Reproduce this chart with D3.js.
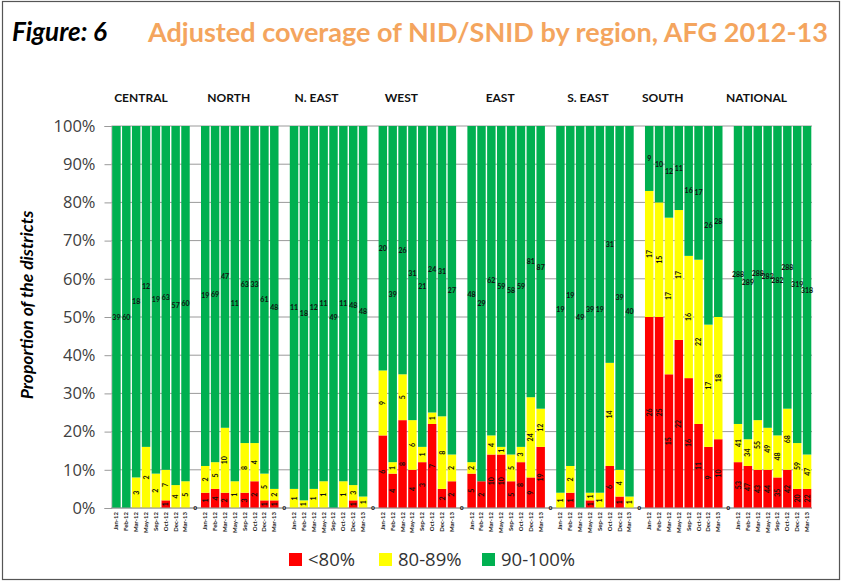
<!DOCTYPE html>
<html>
<head>
<meta charset="utf-8">
<script src="https://cdn.jsdelivr.net/npm/d3@7"></script>
<style>
  body { margin: 0; background: #fff; }
  svg { display: block; font-family: Lato, "Open Sans", sans-serif; }
</style>
</head>
<body>
<svg id="chart" width="842" height="582"></svg>
<script>
// regions and campaigns
const regions = ["CENTRAL", "NORTH", "N. EAST", "WEST", "EAST", "S. EAST", "SOUTH", "NATIONAL"];
const campaigns = ["Jan-12", "Feb-12", "Mar-12", "May-12", "Sep-12", "Oct-12", "Dec-12", "Mar-13"];

// percent of districts, one row per region, one value per campaign
const redPct = [
  [0, 0, 0, 0, 0, 2, 0, 0],
  [4, 5, 4, 0, 4, 7, 2, 2],
  [0, 0, 0, 0, 0, 0, 2, 0],
  [19, 9, 23, 10, 12, 22, 5, 7],
  [9, 7, 14, 14, 7, 12, 8, 16],
  [0, 4, 0, 2, 0, 11, 3, 0],
  [50, 50, 35, 44, 34, 22, 16, 18],
  [12, 11, 10, 10, 8, 10, 5, 5]
];
const yellowPct = [
  [0, 0, 8, 16, 9, 8, 6, 7],
  [7, 7, 17, 7, 13, 10, 7, 3],
  [5, 2, 5, 7, 0, 7, 4, 3],
  [17, 3, 12, 13, 4, 3, 19, 7],
  [3, 0, 5, 2, 7, 4, 21, 10],
  [4, 7, 0, 2, 4, 27, 7, 3],
  [33, 30, 41, 34, 32, 43, 32, 32],
  [10, 7, 13, 11, 11, 16, 12, 9]
];
const greenPct = [
  [100, 100, 92, 84, 91, 90, 94, 93],
  [89, 88, 79, 93, 83, 83, 91, 95],
  [95, 98, 95, 93, 100, 93, 94, 97],
  [64, 88, 65, 77, 84, 75, 76, 86],
  [88, 93, 81, 84, 86, 84, 71, 74],
  [96, 89, 100, 96, 96, 62, 90, 97],
  [17, 20, 24, 22, 34, 35, 52, 50],
  [78, 82, 77, 79, 81, 74, 83, 86]
];

// data labels (number of districts) shown inside each segment
const redLbl = [
  [0, 0, 0, 0, 0, 1, 0, 0],
  [1, 4, 2, 0, 3, 2, 1, 1],
  [0, 0, 0, 0, 0, 0, 1, 0],
  [6, 4, 8, 4, 3, 7, 2, 2],
  [5, 2, 10, 10, 5, 8, 9, 19],
  [0, 1, 0, 1, 0, 6, 1, 0],
  [26, 25, 15, 22, 16, 11, 9, 10],
  [53, 47, 43, 44, 35, 42, 20, 22]
];
const yellowLbl = [
  [0, 0, 3, 2, 2, 7, 4, 5],
  [2, 5, 10, 1, 8, 4, 5, 2],
  [1, 1, 1, 1, 0, 1, 3, 1],
  [9, 1, 5, 6, 1, 1, 8, 2],
  [2, 0, 4, 1, 5, 3, 24, 12],
  [1, 2, 0, 1, 1, 14, 4, 1],
  [17, 15, 17, 17, 16, 22, 17, 18],
  [41, 34, 55, 49, 48, 68, 59, 47]
];
const greenLbl = [
  [39, 60, 18, 12, 19, 63, 57, 60],
  [19, 69, 47, 11, 63, 33, 61, 48],
  [11, 18, 12, 11, 49, 11, 48, 48],
  [20, 39, 26, 31, 21, 24, 31, 27],
  [48, 29, 62, 59, 58, 59, 81, 87],
  [19, 19, 49, 39, 19, 31, 39, 40],
  [9, 10, 12, 11, 16, 17, 26, 28],
  [288, 289, 288, 282, 282, 288, 319, 318]
];

const yTicks = [0, 10, 20, 30, 40, 50, 60, 70, 80, 90, 100];
const legendNames = ["<80%", "80-89%", "90-100%"];

var keys = ["red", "yellow", "green"];
var colors = {red: "#FF0000", yellow: "#FFFF00", green: "#00B050"};
var labels = {red: redLbl, yellow: yellowLbl, green: greenLbl};

// one row per bar, plus an empty slot between regions
var rows = [], slots = [];
regions.forEach(function(r, i) {
  campaigns.forEach(function(c, j) {
    var id = r + "|" + c;
    slots.push(id);
    rows.push({id: id, ri: i, ci: j, red: redPct[i][j], yellow: yellowPct[i][j], green: greenPct[i][j]});
  });
  if (i < regions.length - 1) slots.push("gap" + i);
});

var svg = d3.select("#chart");
var plotL = 111.5, plotR = 812, plotB = 508, plotT = 126;

var x = d3.scaleBand().domain(slots).range([plotL, plotR]).padding(0);
var y = d3.scaleLinear().domain([0, 100]).range([plotB, plotT]);
var bw = x.bandwidth();

// frame round the figure
svg.append("rect")
  .attr("x", 2.5).attr("y", 1.5).attr("width", 837).attr("height", 578)
  .attr("fill", "none").attr("stroke", "#555").attr("stroke-width", 1.2);

// titles
svg.append("text")
  .attr("x", 12).attr("y", 41)
  .style("font-size", "26px").style("font-weight", "bold").style("font-style", "italic")
  .text("Figure: 6");
svg.append("text")
  .attr("x", 148).attr("y", 42)
  .attr("fill", "#F4A55E")
  .attr("textLength", 680).attr("lengthAdjust", "spacingAndGlyphs")
  .style("font-size", "26px").style("font-weight", "bold")
  .text("Adjusted coverage of NID/SNID by region, AFG 2012-13");

// gridlines
svg.append("g")
  .selectAll("line").data(yTicks).enter().append("line")
  .attr("x1", plotL).attr("x2", plotR)
  .attr("y1", function(d) { return y(d); }).attr("y2", function(d) { return y(d); })
  .attr("stroke", "#9a9a9a").attr("stroke-width", 1);

// y axis
var yAxis = svg.append("g")
  .attr("transform", "translate(" + plotL + ",0)")
  .call(d3.axisLeft(y).tickValues(yTicks).tickSize(7).tickPadding(9)
    .tickFormat(function(d) { return d + "%"; }));
yAxis.select(".domain").attr("stroke", "#9a9a9a");
yAxis.selectAll(".tick line").attr("stroke", "#9a9a9a");
yAxis.selectAll(".tick text")
  .attr("fill", "#404040")
  .style("font-family", "'Open Sans', sans-serif").style("font-size", "16.5px");

svg.append("text")
  .attr("transform", "translate(33,305) rotate(-90)")
  .attr("text-anchor", "middle")
  .style("font-size", "17.5px").style("font-weight", "bold").style("font-style", "italic")
  .text("Proportion of the districts");

// stacked bars
var series = d3.stack().keys(keys)(rows);

var layer = svg.append("g").selectAll("g")
  .data(series).enter().append("g")
  .attr("fill", function(s) { return colors[s.key]; });

layer.selectAll("rect")
  .data(function(s) { return s; })
  .enter().append("rect")
  .attr("x", function(d) { return x(d.data.id) + 0.7; })
  .attr("width", bw - 1.4)
  .attr("y", function(d) { return y(d[1]); })
  .attr("height", function(d) { return y(d[0]) - y(d[1]); });

// segment labels
series.forEach(function(s) {
  var seg = s.filter(function(d) { return d[1] - d[0] > 0; });
  svg.append("g").selectAll("text")
    .data(seg).enter().append("text")
    .attr("transform", function(d) {
      var cx = x(d.data.id) + bw / 2, cy = y((d[0] + d[1]) / 2);
      return s.key === "green" ? "translate(" + cx + "," + (cy + 2.5) + ")"
                               : "translate(" + (cx + 2.5) + "," + cy + ") rotate(-90)";
    })
    .attr("text-anchor", "middle")
    .style("font-size", "7px").style("font-weight", "bold")
    .attr("fill", "#111")
    .text(function(d) { return labels[s.key][d.data.ri][d.data.ci]; });
});

// axis line along the bottom
svg.append("line")
  .attr("x1", plotL).attr("x2", plotR).attr("y1", plotB).attr("y2", plotB)
  .attr("stroke", "#9a9a9a");

// empty slots between regions get a zero label
svg.append("g").selectAll("text")
  .data(slots.filter(function(s) { return s.indexOf("gap") === 0; }))
  .enter().append("text")
  .attr("x", function(d) { return x(d) + bw / 2; })
  .attr("y", plotB + 2)
  .attr("text-anchor", "middle")
  .style("font-size", "6px").style("font-weight", "bold")
  .text("0");

// campaign tick labels, rotated
svg.append("g").selectAll("text")
  .data(rows).enter().append("text")
  .attr("transform", function(d) {
    return "translate(" + (x(d.id) + bw / 2 + 2) + "," + (plotB + 4) + ") rotate(-90)";
  })
  .attr("text-anchor", "end")
  .style("font-size", "6px").style("font-weight", "bold")
  .attr("fill", "#222")
  .text(function(d) { return campaigns[d.ci]; });

// region names above the bars
var nudge = [-10, -11, -12, -16, -6, -7, -21, -16];
svg.append("g").selectAll("text")
  .data(regions).enter().append("text")
  .attr("x", function(d, i) { return x(d + "|" + campaigns[0]) + bw * 4 + nudge[i]; })
  .attr("y", 102)
  .attr("text-anchor", "middle")
  .style("font-size", "12px").style("font-weight", "bold")
  .attr("fill", "#111")
  .text(function(d) { return d; });

// legend
var legOffsets = [0, 90, 193];
var leg = svg.append("g").attr("transform", "translate(289,553)")
  .selectAll("g").data(keys).enter().append("g")
  .attr("transform", function(d, i) { return "translate(" + legOffsets[i] + ",0)"; });
leg.append("rect").attr("width", 13).attr("height", 13)
  .attr("fill", function(d) { return colors[d]; });
leg.append("text").attr("x", 19).attr("y", 13)
  .attr("fill", "#333")
  .style("font-family", "'Open Sans', sans-serif").style("font-size", "18.5px")
  .text(function(d, i) { return legendNames[i]; });
</script>
</body>
</html>
